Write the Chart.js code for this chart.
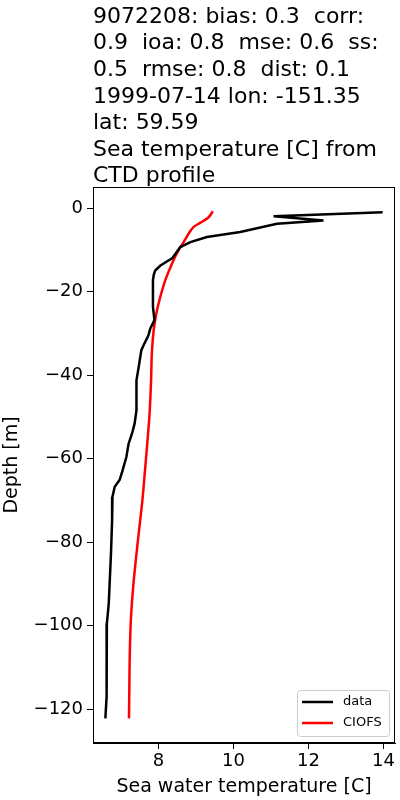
<!DOCTYPE html>
<html>
<head>
<meta charset="utf-8">
<script src="https://cdn.jsdelivr.net/npm/chart.js@4"></script>
<style>
  html, body { margin: 0; padding: 0; background: #fff; }
  #wrap { width: 400px; height: 800px; }
</style>
</head>
<body>
<div id="wrap"><canvas id="profileChart" width="400" height="800"></canvas></div>
<script>
const titleLines = [
    '9072208: bias: 0.3  corr:',
    '0.9  ioa: 0.8  mse: 0.6  ss:',
    '0.5  rmse: 0.8  dist: 0.1',
    '1999-07-14 lon: -151.35',
    'lat: 59.59',
    'Sea temperature [C] from',
    'CTD profile'
];
const xTicks = [8, 10, 12, 14];
const yTicks = [-120, -100, -80, -60, -40, -20, 0];

// observed profile (black)
const dataTemp = [13.98, 11.07, 12.4, 11.16, 10.18, 9.29, 8.85, 8.58, 8.36, 8.05,
    7.91, 7.87, 7.85, 7.85, 7.89, 7.78, 7.73, 7.6, 7.54, 7.47,
    7.41, 7.41, 7.36, 7.29, 7.2, 7.14, 7.04, 6.96, 6.83, 6.77,
    6.76, 6.73, 6.69, 6.67, 6.62, 6.6, 6.62, 6.62, 6.58];
const dataDepth = [-0.96, -1.9, -2.9, -3.7, -5.7, -6.9, -8.1, -9.3, -12, -13.7,
    -14.9, -16, -17.2, -23.6, -26.8, -28.8, -30.4, -32.8, -34, -38,
    -41.2, -48.4, -51.6, -54, -56.4, -59.6, -62.8, -65.1, -66.7, -69.1,
    -74.7, -82.7, -90.7, -94.7, -99.5, -106.7, -110.7, -117, -122.2];

// model profile (red)
const modelTemp = [9.45, 9.33, 9.11, 8.93, 8.8, 8.67, 8.53, 8.36, 8.18, 8.04,
    7.94, 7.87, 7.82, 7.8, 7.76, 7.69, 7.63, 7.56, 7.44, 7.33,
    7.26, 7.23, 7.22, 7.21];
const modelDepth = [-0.7, -2.2, -3.5, -4.5, -6.1, -8.1, -10.1, -13.2, -17.2, -21.4,
    -25.2, -29.2, -34.8, -41.2, -49.2, -57.2, -63.6, -70.7, -80.3, -89.9,
    -98.7, -107.5, -114.7, -122.2];

const FONT = "'DejaVu Sans', sans-serif";

let toPoints = (xs, ys) => xs.map((x, i) => ({ x: x, y: ys[i] }));
let mplLabel = (v) => String(v).replace('-', '\u2212');

// frame, title text and legend box, drawn like matplotlib
const mplExtras = {
    id: 'mplExtras',
    afterDraw(chart) {
        const ctx = chart.ctx;
        const a = chart.chartArea;
        ctx.save();
        ctx.strokeStyle = '#000';
        ctx.lineWidth = 1;
        ctx.strokeRect(a.left + 0.5, a.top + 0.5, a.right - a.left - 1, a.bottom - a.top - 1);

        ctx.fillStyle = '#000';
        ctx.font = '22px ' + FONT;
        ctx.textAlign = 'left';
        ctx.textBaseline = 'alphabetic';
        titleLines.forEach((t, i) => ctx.fillText(t, a.left, 22.7 + i * 26.6));

        // legend
        const w = 92, h = 46;
        const lx = a.right - 6 - w, ly = a.bottom - 7 - h;
        ctx.beginPath();
        ctx.roundRect(lx + 0.5, ly + 0.5, w, h, 3);
        ctx.fillStyle = 'rgba(255,255,255,0.8)';
        ctx.fill();
        ctx.strokeStyle = '#cccccc';
        ctx.stroke();
        ctx.font = '13px ' + FONT;
        ctx.textBaseline = 'middle';
        chart.data.datasets.forEach((ds, i) => {
            const yy = ly + 12 + i * 21;
            ctx.strokeStyle = ds.borderColor;
            ctx.lineWidth = 2.5;
            ctx.beginPath();
            ctx.moveTo(lx + 5, yy);
            ctx.lineTo(lx + 36, yy);
            ctx.stroke();
            ctx.fillStyle = '#000';
            ctx.fillText(ds.label, lx + 46, yy);
        });
        ctx.restore();
    }
};

new Chart(document.getElementById('profileChart'), {
    type: 'scatter',
    data: {
        datasets: [{
            label: 'data',
            data: toPoints(dataTemp, dataDepth),
            borderColor: '#000000',
            backgroundColor: '#000000',
            borderWidth: 2.5,
            showLine: true,
            pointRadius: 0,
            tension: 0
        }, {
            label: 'CIOFS',
            data: toPoints(modelTemp, modelDepth),
            borderColor: '#ff0000',
            backgroundColor: '#ff0000',
            borderWidth: 2.5,
            showLine: true,
            pointRadius: 0,
            tension: 0.3
        }]
    },
    options: {
        responsive: false,
        animation: false,
        layout: { padding: { top: 187, right: 5, bottom: 0, left: 0 } },
        plugins: {
            legend: { display: false },
            title: { display: false },
            tooltip: { enabled: false }
        },
        scales: {
            x: {
                type: 'linear',
                min: 6.25,
                max: 14.31,
                afterBuildTicks: (s) => { s.ticks = xTicks.map(v => ({ value: v })); },
                afterFit: (s) => { s.height = 57; },
                grid: { drawOnChartArea: false, drawTicks: true, tickLength: 6, tickColor: '#000', tickWidth: 1 },
                border: { display: true, color: '#000' },
                ticks: { color: '#000', padding: 2, maxRotation: 0, font: { family: FONT, size: 18 } },
                title: { display: true, text: 'Sea water temperature [C]', color: '#000', padding: { top: 0, bottom: 2 }, font: { family: FONT, size: 19 } }
            },
            y: {
                type: 'linear',
                min: -128.1,
                max: 5.1,
                afterBuildTicks: (s) => { s.ticks = yTicks.map(v => ({ value: v })); },
                afterFit: (s) => { s.width = 93; },
                grid: { drawOnChartArea: false, drawTicks: true, tickLength: 6, tickColor: '#000', tickWidth: 1 },
                border: { display: true, color: '#000' },
                ticks: { color: '#000', padding: 4, font: { family: FONT, size: 18 }, callback: mplLabel },
                title: { display: true, text: 'Depth [m]', color: '#000', padding: { top: 1, bottom: 0 }, font: { family: FONT, size: 19 } }
            }
        }
    },
    plugins: [mplExtras]
});
</script>
</body>
</html>
